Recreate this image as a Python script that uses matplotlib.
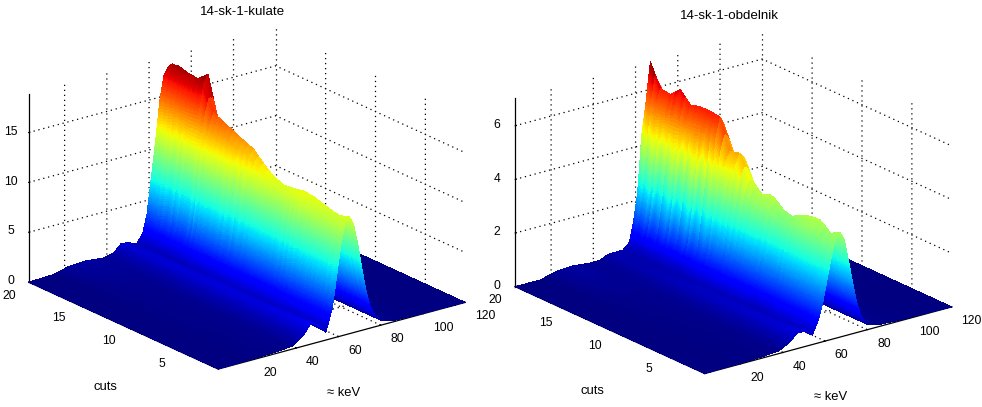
#!/usr/bin/env python3
"""Dva 3D spektra (keV x cuts), hodnoty odectene z obrazku."""
import numpy as np
import matplotlib

matplotlib.use("Agg")
import matplotlib.pyplot as plt

plt.rcParams["font.family"] = ["Liberation Sans", "DejaVu Sans"]

kev = [3, 15, 22, 30, 38, 43, 47, 51, 54, 57, 59, 61, 63, 65, 67, 69, 71, 73, 75, 77, 80, 85, 95, 120]
cuts = list(range(1, 21))

kulate = [
    [0, .05, .10, .15, .3, 1.0, 2.1, 1.6, .8, 3.0, 6.0, 9.0, 11.2, 11.7, 10.9, 8.8, 6.2, 3.8, 2.2, 1.2, .5, .15, .05, 0],
    [0, .05, .10, .20, .3, 0.9, 1.9, 1.6, .9, 2.8, 5.6, 8.6, 10.9, 11.4, 11.0, 9.0, 6.6, 4.0, 2.3, 1.3, .5, .15, .05, 0],
    [0, .05, .10, .20, .3, 0.9, 1.8, 1.5, .9, 2.7, 5.4, 8.6, 11.0, 11.6, 11.2, 9.4, 6.9, 4.2, 2.4, 1.3, .5, .15, .05, 0],
    [0, .05, .10, .20, .3, 0.8, 1.7, 1.5, .9, 2.6, 5.2, 8.5, 11.0, 11.8, 11.5, 9.7, 7.1, 4.4, 2.5, 1.3, .5, .15, .05, 0],
    [0, .05, .10, .20, .3, 0.8, 1.7, 1.5, .9, 2.6, 5.4, 8.8, 11.4, 12.0, 11.8, 10.0, 7.4, 4.6, 2.6, 1.4, .5, .15, .05, 0],
    [0, .05, .10, .20, .3, 0.8, 1.6, 1.4, .9, 2.5, 5.0, 8.2, 10.8, 11.8, 11.9, 10.3, 7.6, 4.8, 2.7, 1.4, .5, .15, .05, 0],
    [0, .05, .15, .20, .3, 0.8, 1.6, 1.4, .9, 2.5, 4.5, 7.4, 9.9, 11.6, 11.7, 10.4, 7.8, 4.9, 2.8, 1.4, .5, .15, .05, 0],
    [0, .05, .15, .20, .3, 0.8, 1.6, 1.4, .9, 2.4, 4.7, 7.7, 10.2, 11.4, 11.6, 10.5, 8.0, 5.1, 2.9, 1.5, .5, .15, .05, 0],
    [0, .05, .15, .20, .3, 0.8, 1.6, 1.4, .9, 2.4, 4.6, 7.6, 10.3, 11.8, 12.0, 10.9, 8.3, 5.3, 3.0, 1.5, .6, .15, .05, 0],
    [0, .05, .15, .20, .3, 0.8, 1.6, 1.4, .9, 2.5, 4.6, 7.6, 10.6, 12.4, 12.8, 11.6, 8.9, 5.7, 3.2, 1.6, .6, .15, .05, 0],
    [0, .05, .15, .20, .3, 0.8, 1.5, 1.4, .9, 2.5, 4.3, 7.2, 10.4, 13.2, 13.8, 12.6, 9.7, 6.2, 3.5, 1.7, .6, .15, .05, 0],
    [0, .05, .15, .25, .3, 0.8, 1.5, 1.4, .9, 2.4, 4.9, 8.2, 11.8, 13.6, 14.2, 13.1, 10.1, 6.5, 3.6, 1.8, .6, .15, .05, 0],
    [0, .05, .15, .25, .3, 0.8, 1.5, 1.3, .9, 2.3, 4.4, 7.4, 11.0, 13.9, 14.7, 13.7, 10.7, 6.9, 3.8, 1.9, .7, .15, .05, 0],
    [0, .05, .20, .25, .3, 0.7, 1.5, 1.3, .9, 2.2, 4.6, 7.8, 11.5, 14.1, 15.1, 14.2, 11.2, 7.2, 4.0, 2.0, .7, .15, .05, 0],
    [0, .05, .20, .25, .3, 0.7, 1.5, 1.3, .9, 2.1, 4.3, 7.6, 11.6, 14.4, 15.6, 14.9, 11.9, 7.7, 4.3, 2.1, .7, .2, .05, 0],
    [0, .05, .20, .30, .3, 0.7, 1.4, 1.3, .9, 2.1, 3.4, 6.2, 10.2, 15.4, 18.0, 18.9, 15.4, 10.0, 5.6, 2.6, .8, .2, .05, 0],
    [0, .05, .25, .35, .3, 0.7, 1.4, 1.3, .9, 2.0, 3.5, 6.4, 10.4, 15.2, 17.6, 18.0, 16.0, 10.8, 6.0, 2.8, .9, .2, .05, 0],
    [0, .05, .30, .40, .4, 0.7, 1.4, 1.3, .9, 2.0, 4.1, 7.5, 11.6, 15.0, 17.4, 18.1, 17.0, 12.0, 6.6, 3.0, 1.0, .25, .05, 0],
    [0, .08, .40, .50, .4, 0.6, 1.4, 1.2, .9, 1.9, 3.7, 7.0, 10.7, 14.8, 17.2, 18.4, 17.9, 14.0, 8.0, 3.6, 1.2, .3, .05, 0],
    [0, .10, .50, .60, .4, 0.6, 1.4, 1.2, .9, 1.8, 3.6, 7.0, 10.5, 14.5, 17.0, 17.8, 18.0, 16.0, 10.0, 5.0, 1.5, .4, .05, 0],
]

obdelnik = [
    [0, .02, .03, .05, .10, .30, .60, .55, .35, .90, 1.50, 2.30, 3.10, 3.70, 3.90, 3.60, 2.80, 1.90, 1.10, .60, .20, .08, .03, 0],
    [0, .02, .03, .05, .10, .28, .55, .52, .35, .85, 1.45, 2.25, 3.05, 3.50, 3.70, 3.50, 2.85, 1.90, 1.10, .60, .20, .08, .03, 0],
    [0, .02, .03, .05, .10, .26, .52, .50, .35, .85, 1.45, 2.30, 3.15, 3.80, 4.03, 3.80, 3.00, 2.00, 1.15, .60, .20, .08, .03, 0],
    [0, .02, .03, .05, .10, .25, .50, .48, .34, .80, 1.40, 2.25, 3.10, 3.75, 4.00, 3.75, 3.00, 2.00, 1.15, .60, .20, .08, .03, 0],
    [0, .02, .03, .05, .10, .25, .48, .46, .33, .80, 1.35, 2.20, 3.05, 3.65, 3.85, 3.70, 3.05, 2.05, 1.20, .62, .20, .08, .03, 0],
    [0, .02, .03, .05, .10, .24, .46, .45, .33, .75, 1.30, 2.05, 2.85, 3.45, 3.65, 3.55, 2.90, 1.95, 1.15, .60, .20, .08, .03, 0],
    [0, .02, .03, .06, .10, .24, .44, .44, .32, .75, 1.30, 2.05, 2.85, 3.55, 3.80, 3.65, 2.95, 2.00, 1.15, .62, .20, .08, .03, 0],
    [0, .02, .04, .06, .10, .23, .42, .42, .32, .78, 1.35, 2.20, 3.05, 3.85, 4.13, 3.95, 3.15, 2.15, 1.25, .65, .22, .08, .03, 0],
    [0, .02, .04, .06, .10, .22, .42, .42, .32, .78, 1.35, 2.15, 3.00, 3.70, 3.95, 3.80, 3.15, 2.15, 1.25, .65, .22, .08, .03, 0],
    [0, .02, .04, .07, .10, .22, .40, .40, .32, .80, 1.40, 2.25, 3.20, 3.95, 4.30, 4.15, 3.40, 2.30, 1.35, .70, .24, .08, .03, 0],
    [0, .02, .05, .08, .10, .22, .40, .40, .32, .85, 1.50, 2.50, 3.65, 4.75, 5.15, 4.95, 4.00, 2.70, 1.55, .80, .26, .08, .03, 0],
    [0, .02, .05, .08, .10, .20, .38, .38, .32, .80, 1.55, 2.70, 3.95, 4.70, 5.05, 4.90, 4.05, 2.75, 1.60, .82, .26, .08, .03, 0],
    [0, .02, .06, .09, .10, .20, .36, .36, .30, .80, 1.30, 2.35, 3.70, 5.40, 6.15, 5.80, 4.60, 3.10, 1.80, .90, .30, .10, .03, 0],
    [0, .02, .07, .10, .11, .20, .34, .34, .30, .75, 1.60, 2.95, 4.60, 5.60, 6.20, 5.90, 4.75, 3.20, 1.85, .95, .30, .10, .03, 0],
    [0, .02, .08, .12, .11, .18, .32, .32, .30, .72, 1.20, 2.25, 3.70, 5.60, 6.20, 5.90, 4.80, 3.20, 1.85, .95, .30, .10, .03, 0],
    [0, .01, .09, .13, .12, .18, .30, .30, .30, .68, 1.50, 2.80, 4.45, 5.50, 6.10, 5.80, 4.70, 3.15, 1.80, .92, .30, .10, .03, 0],
    [0, .01, .10, .15, .12, .16, .30, .30, .28, .65, 1.10, 2.15, 3.65, 5.80, 6.50, 6.10, 4.90, 3.20, 1.85, .95, .32, .10, .03, 0],
    [0, .01, .12, .18, .13, .15, .28, .28, .28, .60, 1.40, 2.70, 4.35, 5.50, 6.15, 5.90, 4.70, 3.10, 1.80, .92, .30, .10, .03, 0],
    [0, .01, .13, .19, .13, .14, .28, .28, .28, .55, 1.05, 2.05, 3.60, 5.50, 6.20, 5.95, 4.70, 3.05, 1.75, .90, .30, .10, .03, 0],
    [0, .00, .15, .20, .13, .13, .27, .28, .28, .50, 1.20, 2.30, 4.40, 5.60, 7.03, 6.40, 4.80, 3.00, 1.70, .90, .35, .10, .03, 0],
]

kev_ticks = [20, 40, 60, 80, 100, 120]
cut_ticks = [5, 10, 15, 20]
z_ticks_kulate = [0, 5, 10, 15]
z_ticks_obdelnik = [0, 2, 4, 6]


def shading_interp(x, y, z, nx=14, ny=2):
    # jako MATLAB "shading interp": kazdou bunku rozdelim jen kvuli plynule barve
    x = np.asarray(x, dtype=float)
    y = np.asarray(y, dtype=float)
    z = np.asarray(z, dtype=float)
    xf = np.interp(np.linspace(0, len(x) - 1, (len(x) - 1) * nx + 1), np.arange(len(x)), x)
    yf = np.interp(np.linspace(0, len(y) - 1, (len(y) - 1) * ny + 1), np.arange(len(y)), y)
    zx = np.array([np.interp(xf, x, row) for row in z])
    zf = np.array([np.interp(yf, y, col) for col in zx.T]).T
    xx, yy = np.meshgrid(xf, yf)
    return xx, yy, zf


def draw_grid(ax, x0, x1, y0, y1, zmax, z_ticks):
    style = dict(color="black", linestyle=(0, (1, 3)), linewidth=0.9, zorder=0)
    for x in kev_ticks[:-1]:
        ax.plot([x, x, x], [y0, y1, y1], [0, 0, zmax], **style)
    for y in cut_ticks[:-1]:
        ax.plot([x0, x1, x1], [y, y, y], [0, 0, zmax], **style)
    for z in z_ticks[1:]:
        ax.plot([x0, x1, x1], [y1, y1, y0], [z, z, z], **style)
    ax.plot([x1, x1], [y1, y1], [0, zmax], **style)


def draw_panel(fig, left, bottom, z, z_ticks):
    ax = fig.add_axes([left / 982, bottom / 407, 407 / 982, 1], projection="3d",
                      proj_type="ortho", computed_zorder=False)
    ax.set_box_aspect((1, 1, 0.647), zoom=1.155)
    ax.view_init(elev=20.6, azim=-127.5)
    ax.patch.set_alpha(0)
    ax.grid(False)

    zmax = float(np.max(z))
    draw_grid(ax, kev[0], kev[-1], cuts[0], cuts[-1], zmax, z_ticks)

    xx, yy, zz = shading_interp(kev, cuts, z)
    surf = ax.plot_surface(xx, yy, zz, rstride=1, cstride=1, cmap="jet", vmin=0, vmax=zmax,
                           linewidth=0, antialiased=False, shade=False, zorder=1)
    surf.set_clip_on(False)
    for line in ax.lines:
        line.set_clip_on(False)

    ax.set_xlim(kev[0], kev[-1])
    ax.set_ylim(cuts[0], cuts[-1])
    ax.set_zlim(0, zmax)
    ax.set_xticks(kev_ticks)
    ax.set_yticks(cut_ticks)
    ax.set_zticks(z_ticks)
    for axis in (ax.xaxis, ax.yaxis, ax.zaxis):
        axis.pane.set_visible(False)
        axis.line.set_color("black")
        axis.line.set_linewidth(0.9)
        axis._axinfo["tick"]["inward_factor"] = 0.0
        axis._axinfo["tick"]["outward_factor"] = 0.06
    ax.tick_params(labelsize=8.7, colors="black")
    ax.tick_params(axis="x", pad=-0.2)
    ax.tick_params(axis="y", pad=0)
    ax.tick_params(axis="z", pad=-1.7)
    for t in ax.xaxis.get_ticklabels():
        t.set(ha="left", va="center")
    for t in ax.yaxis.get_ticklabels():
        t.set(ha="right", va="center")
    for t in ax.zaxis.get_ticklabels():
        t.set(ha="center", va="center")
    return ax


fig = plt.figure(figsize=(9.82, 4.07), dpi=100)
draw_panel(fig, 38, 0, kulate, z_ticks_kulate)
draw_panel(fig, 524.5, -4.5, obdelnik, z_ticks_obdelnik)

fig.text(243 / 982, 1 - 12 / 407, "14-sk-1-kulate", fontsize=9.6, ha="center", va="center")
fig.text(729 / 982, 1 - 16 / 407, "14-sk-1-obdelnik", fontsize=9.6, ha="center", va="center")
fig.text(105 / 982, 1 - 387 / 407, "cuts", fontsize=9.4, ha="center", va="center")
fig.text(592 / 982, 1 - 391 / 407, "cuts", fontsize=9.4, ha="center", va="center")
fig.text(344 / 982, 1 - 393 / 407, "≈ keV", fontsize=9.4, ha="center", va="center")
fig.text(831 / 982, 1 - 397 / 407, "≈ keV", fontsize=9.4, ha="center", va="center")

fig.savefig("out.png", dpi=100)
